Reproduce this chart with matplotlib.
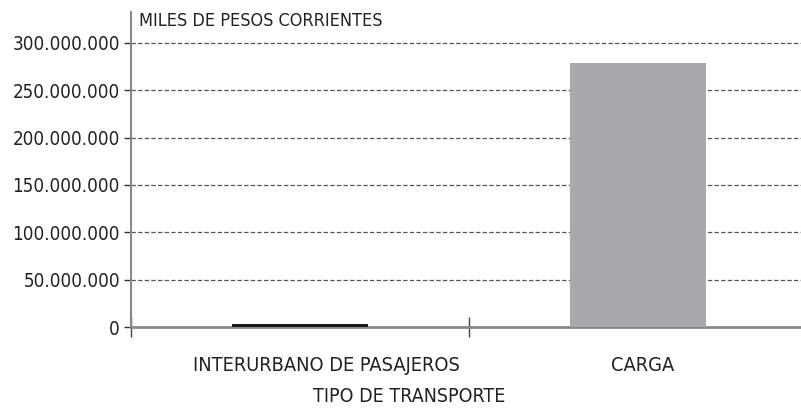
import matplotlib
matplotlib.use("Agg")
import matplotlib.pyplot as plt
import matplotlib.transforms as mtransforms
from matplotlib.ticker import FuncFormatter

# data
categorias = ["INTERURBANO DE PASAJEROS", "CARGA"]
valores = [3500000, 278500000]
colores = ["#1a1a1a", "#a8a9ac"]
y_ticks = [0, 50000000, 100000000, 150000000, 200000000, 250000000, 300000000]

plt.rcParams['font.family'] = ['DejaVu Sans']
plt.rcParams['font.stretch'] = 'condensed'

fig = plt.figure(figsize=(8.01, 4.15), dpi=100)
ax = fig.add_axes([131 / 801, 1 - 327 / 415, 676 / 801, (327 - 12) / 415])

x = list(range(len(categorias)))
ax.bar(x, valores, width=0.4, color=colores, zorder=3)

ax.set_xlim(-0.5, 1.5)
ax.set_ylim(0, 332700000)

# y axis
ax.set_yticks(y_ticks)
ax.yaxis.set_major_formatter(FuncFormatter(lambda v, p: f"{int(v):,}".replace(",", ".")))
ax.tick_params(axis="y", direction="out", length=5, width=1, color="#333333",
               labelsize=13.5, labelcolor="#222222", pad=3)
for v in y_ticks[1:]:
    ax.axhline(v, color="#555555", lw=0.9, ls=(0, (3.5, 1.8)), zorder=1)

# x axis: boundary ticks + centred labels
ax.set_xticks([-0.5, 0.5, 1.5])
ax.set_xticklabels([])
ax.tick_params(axis="x", which="major", direction="inout", length=14, width=1, color="#444444")
ax.set_xticks(x, minor=True)
ax.set_xticklabels(categorias, minor=True)
ax.tick_params(axis="x", which="minor", length=0, labelsize=14.3, labelcolor="#222222", pad=21)
offsets = [26, 5]
for lbl, dx in zip(ax.get_xticklabels(minor=True), offsets):
    lbl.set_transform(lbl.get_transform() + mtransforms.ScaledTranslation(dx / 100, 0, fig.dpi_scale_trans))

for s in ["top", "right"]:
    ax.spines[s].set_visible(False)
ax.spines["left"].set_color("#888888")
ax.spines["left"].set_linewidth(1.5)
ax.spines["bottom"].set_color("#888888")
ax.spines["bottom"].set_linewidth(2)

ax.text(0.012, 1.0, "MILES DE PESOS CORRIENTES", transform=ax.transAxes,
        ha="left", va="top", fontsize=13, color="#222222")
fig.text(409 / 801, 1 - 396 / 415, "TIPO DE TRANSPORTE", ha="center", va="center",
         fontsize=14, color="#222222")

fig.savefig("out.png", dpi=100)
